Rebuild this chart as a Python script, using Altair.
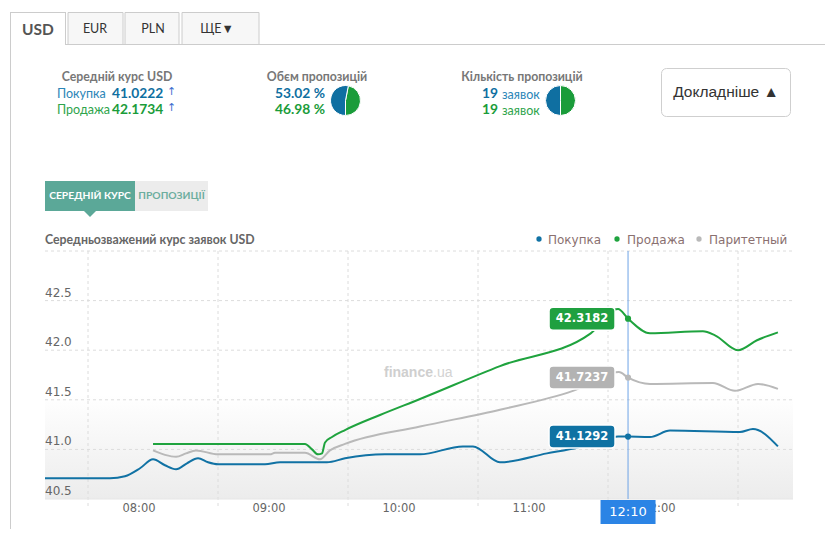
import altair as alt
import pandas as pd

# ---------------- data ----------------
series_names = ["Покупка", "Продажа", "Паритетний"]
series_colors = ["#1172a4", "#1fa33e", "#b9b9b9"]

time_buy = [7.277, 7.777, 7.892, 8.008, 8.108, 8.2, 8.285, 8.369, 8.454, 8.531, 8.608, 8.969,
            9.085, 9.446, 9.585, 9.892, 10.162, 10.492, 10.569, 10.777, 11.138, 11.377, 11.546,
            11.685, 11.762, 11.931, 12.085, 12.623, 12.723, 12.915]
rate_buy = [40.71, 40.71, 40.73, 40.81, 40.90, 40.84, 40.80, 40.86, 40.91, 40.87, 40.85, 40.85,
            40.87, 40.87, 40.91, 40.95, 40.95, 41.03, 41.03, 40.87, 40.96, 41.02, 41.08,
            41.13, 41.1292, 41.125, 41.19, 41.175, 41.205, 41.03]

time_sell = [8.108, 9.277, 9.331, 9.377, 9.408, 9.431, 9.485, 9.585, 9.854, 10.162, 10.777,
             11.475, 11.685, 11.762, 11.931, 12.338, 12.431, 12.608, 12.754, 12.915]
rate_sell = [41.055, 41.055, 41.00, 40.95, 40.96, 41.07, 41.125, 41.195, 41.347, 41.508, 41.84,
             42.17, 42.415, 42.3182, 42.17, 42.19, 42.15, 42.00, 42.10, 42.18]

time_par = [8.108, 8.2, 8.285, 8.362, 8.438, 8.608, 9.008, 9.046, 9.277, 9.392, 9.469, 9.585,
            10.162, 10.777, 11.338, 11.692, 11.762, 11.931, 12.415, 12.585, 12.762, 12.915]
rate_par = [40.99, 40.945, 40.926, 40.96, 40.99, 40.95, 40.95, 40.965, 40.965, 40.90, 40.99, 41.055,
            41.23, 41.40, 41.59, 41.78, 41.7237, 41.66, 41.67, 41.59, 41.66, 41.61]

cross_time = 11.762
cross_label = "12:10"
cross_vals = [41.1292, 42.3182, 41.7237]

x_label_t = [8, 9, 10, 11, 12]
x_label_s = ["08:00", "09:00", "10:00", "11:00", "12:00"]
x_grid_t = [7.608, 8.608, 9.608, 10.608, 11.608, 12.608]
y_ticks = [40.5, 41.0, 41.5, 42.0, 42.5]
y_grid = [41.0, 41.5, 42.0, 42.5, 43.0]

avg_buy, avg_sell = "41.0222", "42.1734"
vol_buy, vol_sell = 53.02, 46.98
cnt_buy, cnt_sell = 19, 19

# ---------------- layout helpers ----------------
PX0, PY0 = 45, 251           # page position of plot origin
W, H = 748, 248
FN = "Lato, Roboto, sans-serif"
FV = "DejaVu Sans, Verdana, sans-serif"
FA = "Liberation Sans, Arial, sans-serif"

X_SC = alt.Scale(domain=[7.277, 13.031], nice=False, zero=False)
Y_SC = alt.Scale(domain=[40.5, 43.0], nice=False, zero=False)
ONE = pd.DataFrame({"a": [0]})


def vx(X):
    return alt.value(X - PX0)


def vy(Y):
    return alt.value(Y - PY0)


def txt(s, X, Y, size, color, weight="normal", align="left", font=FN, baseline="middle"):
    return alt.Chart(ONE).mark_text(text=s, fontSize=size, color=color, fontWeight=weight,
                                    align=align, baseline=baseline, font=font).encode(x=vx(X), y=vy(Y))


def box(X1, Y1, X2, Y2, fill, stroke=None, sw=1, r=0):
    kw = dict(fill=fill, cornerRadius=r)
    if stroke:
        kw.update(stroke=stroke, strokeWidth=sw)
    return alt.Chart(ONE).mark_rect(**kw).encode(x=vx(X1), x2=vx(X2), y=vy(Y1), y2=vy(Y2))


def hline(X1, X2, Y, color, w=1, dash=None):
    kw = dict(color=color, strokeWidth=w)
    if dash:
        kw["strokeDash"] = dash
    return alt.Chart(ONE).mark_rule(**kw).encode(x=vx(X1), x2=vx(X2), y=vy(Y), y2=vy(Y))


def vline(X, Y1, Y2, color, w=1):
    return alt.Chart(ONE).mark_rule(color=color, strokeWidth=w).encode(x=vx(X), x2=vx(X), y=vy(Y1), y2=vy(Y2))


layers = []

# ---------------- tabs & panel ----------------
BORDER = "#cccccc"
for (x1, x2) in [(68, 123), (125, 179), (182, 259)]:
    layers.append(box(x1, 12.5, x2, 44.5, "#f7f7f7", BORDER))
layers += [
    vline(10.5, 12, 537, BORDER), hline(10, 65, 12.5, BORDER), vline(65.5, 12, 44, BORDER),
    hline(65, 828, 44.5, BORDER), vline(827.5, 44, 537, BORDER),
    txt("USD", 38, 30, 15.5, "#555555", "bold", "center"),
    txt("EUR", 95, 29, 12.5, "#333333", "normal", "center"),
    txt("PLN", 153, 29, 12.5, "#333333", "normal", "center"),
    txt("ЩЕ▼", 217, 29, 12.5, "#333333", "normal", "center"),
]

# ---------------- summary block ----------------
BLUE, GREEN = "#0f6fa1", "#1a9c3a"
HDR = 12.3
layers += [
    txt("Середній курс USD", 117, 77, HDR, "#777777", "bold", "center"),
    txt("Покупка", 57, 94, 12.5, "#2b86b8"),
    txt(avg_buy, 112, 94, 13.8, BLUE, "bold"),
    txt("↑", 167, 92, 11, "#3f6fd0", font=FV),
    txt("Продажа", 57, 110, 12.5, "#2ea44b"),
    txt(avg_sell, 112, 110, 13.8, GREEN, "bold"),
    txt("↑", 167, 108, 11, "#3f6fd0", font=FV),
    txt("Обєм пропозицій", 317, 77, HDR, "#777777", "bold", "center"),
    txt(f"{vol_buy:.2f} %", 325, 94, 13.8, BLUE, "bold", "right"),
    txt(f"{vol_sell:.2f} %", 325, 110, 13.8, GREEN, "bold", "right"),
    txt("Кількість пропозицій", 522, 77, HDR, "#777777", "bold", "center"),
    txt(str(cnt_buy), 498, 94, 13.8, BLUE, "bold", "right"),
    txt("заявок", 502, 95, 12.5, "#2b86b8"),
    txt(str(cnt_sell), 498, 110, 13.8, GREEN, "bold", "right"),
    txt("заявок", 502, 111, 12.5, "#2ea44b"),
]

TAU = 6.283185307


def pie(cx, cy, buy, sell):
    total = buy + sell
    g_end = TAU / 2
    g_start = g_end - sell / total * TAU
    df = pd.DataFrame({"t0": [g_start, g_end], "t1": [g_end, g_start + TAU],
                       "c": [GREEN, BLUE]})
    return alt.Chart(df).mark_arc(radius=15, stroke="white", strokeWidth=1).encode(
        theta=alt.Theta("t0:Q", scale=None), theta2="t1:Q",
        color=alt.Color("c:N", scale=None), x=vx(cx), y=vy(cy))


layers += [pie(345.5, 100.5, vol_buy, vol_sell), pie(560.5, 100.5, cnt_buy, cnt_sell)]

layers += [
    box(661.5, 68.5, 790.5, 116.5, "white", "#cfcfcf", 1, 5),
    txt("Докладніше ▲", 726, 92, 15.5, "#333333", "normal", "center", FA),
]

# ---------------- sub tabs & title ----------------
TEAL = "#5ba898"
layers += [
    alt.Chart(ONE).mark_point(shape="M-1,0L1,0L0,1Z", size=144, filled=True, fill=TEAL,
                              opacity=1, strokeWidth=0).encode(x=vx(90), y=vy(211)),
    box(45, 181, 135, 211, TEAL),
    box(135, 181, 208, 211, "#ececec"),
    txt("СЕРЕДНІЙ КУРС", 90, 196, 10.3, "white", "bold", "center"),
    txt("ПРОПОЗИЦІЇ", 171.5, 196, 10.3, "#6cae9f", "bold", "center"),
    txt("Середньозважений курс заявок USD", 45, 240, 12.3, "#666666", "bold"),
]

# legend
LEG_TXT = "#8a7070"
for dx, tx, name, col in [(539, 548, series_names[0], series_colors[0]),
                          (617, 627, series_names[1], series_colors[1]),
                          (699, 709, "Паритетный", series_colors[2])]:
    layers.append(alt.Chart(ONE).mark_circle(size=28, color=col, opacity=1).encode(x=vx(dx), y=vy(239)))
    layers.append(txt(name, tx, 240, 12, LEG_TXT, font=FV))

# ---------------- plot area ----------------
grad = alt.Gradient(gradient="linear",
                    stops=[alt.GradientStop(color="#ffffff", offset=0),
                           alt.GradientStop(color="#ffffff", offset=0.58),
                           alt.GradientStop(color="#ececec", offset=1)],
                    x1=0, x2=0, y1=0, y2=1)
layers.append(alt.Chart(ONE).mark_rect(color=grad).encode(
    x=alt.value(0), x2=alt.value(W), y=alt.value(0), y2=alt.value(H)))

ygrid_df = pd.DataFrame({"v": y_grid})
layers.append(alt.Chart(ygrid_df).mark_rule(color="#dcdcdc", strokeDash=[3, 3], strokeWidth=1).encode(
    y=alt.Y("v:Q", scale=Y_SC, axis=None), x=alt.value(0), x2=alt.value(W)))
xgrid_df = pd.DataFrame({"t": x_grid_t})
layers.append(alt.Chart(xgrid_df).mark_rule(color="#dcdcdc", strokeDash=[3, 3], strokeWidth=1).encode(
    x=alt.X("t:Q", scale=X_SC, axis=None), y=alt.value(0), y2=alt.value(H + 10)))
layers.append(alt.Chart(ONE).mark_rule(color="#e6e6e6").encode(
    x=alt.value(0), x2=alt.value(W), y=alt.value(H), y2=alt.value(H)))

# watermark
layers += [
    txt("finance", 433, 373, 14, "#cfcfcf", "bold", "right", FA),
    txt(".ua", 433, 373, 14, "#d3d3d3", "normal", "left", FA),
]

# data lines
for ts, vs, col in [(time_par, rate_par, series_colors[2]),
                    (time_sell, rate_sell, series_colors[1]),
                    (time_buy, rate_buy, series_colors[0])]:
    df = pd.DataFrame({"t": ts, "v": vs})
    layers.append(alt.Chart(df).mark_line(color=col, strokeWidth=2, interpolate="monotone").encode(
        x=alt.X("t:Q", scale=X_SC, axis=None), y=alt.Y("v:Q", scale=Y_SC, axis=None)))

# crosshair
cross_df = pd.DataFrame({"t": [cross_time]})
layers.append(alt.Chart(cross_df).mark_rule(color="#6ea3e6", strokeWidth=1).encode(
    x=alt.X("t:Q", scale=X_SC, axis=None), y=alt.value(0), y2=alt.value(H)))

pts = pd.DataFrame({"t": [cross_time] * 3, "v": cross_vals, "c": series_colors,
                    "lab": [f"{v:.4f}" for v in cross_vals]})
pts["x1"] = pts["t"] - 79 / 130
pts["x2"] = pts["t"] - 13 / 130
pts["y1"] = pts["v"] - 0.116
pts["y2"] = pts["v"] + 0.116
pts["xm"] = (pts["x1"] + pts["x2"]) / 2
box_cols = ["#0f72a3", "#1fa040", "#b3b3b3"]
pts["bc"] = box_cols

layers.append(alt.Chart(pts).mark_circle(size=38, opacity=1).encode(
    x=alt.X("t:Q", scale=X_SC, axis=None), y=alt.Y("v:Q", scale=Y_SC, axis=None),
    color=alt.Color("c:N", scale=None)))
layers.append(alt.Chart(pts).mark_rect(cornerRadius=4, stroke="white", strokeWidth=1.5).encode(
    x=alt.X("x1:Q", scale=X_SC, axis=None), x2="x2:Q",
    y=alt.Y("y1:Q", scale=Y_SC, axis=None), y2="y2:Q",
    color=alt.Color("bc:N", scale=None)))
layers.append(alt.Chart(pts).mark_text(color="white", fontWeight="bold", fontSize=11.5, font=FV,
                                       baseline="middle", align="center").encode(
    x=alt.X("xm:Q", scale=X_SC, axis=None), y=alt.Y("v:Q", scale=Y_SC, axis=None), text="lab:N"))

# axis labels
ylab = pd.DataFrame({"v": y_ticks, "s": [f"{v:.1f}" for v in y_ticks]})
layers.append(alt.Chart(ylab).mark_text(align="left", baseline="middle", dy=-8, fontSize=12,
                                        color="#666666", font=FV).encode(
    y=alt.Y("v:Q", scale=Y_SC, axis=None), x=alt.value(0), text="s:N"))
xlab = pd.DataFrame({"t": x_label_t, "s": x_label_s})
layers.append(alt.Chart(xlab).mark_text(align="center", baseline="middle", fontSize=11.5,
                                        color="#666666", font=FV).encode(
    x=alt.X("t:Q", scale=X_SC, axis=None), y=alt.value(H + 10), text="s:N"))

# crosshair time label
cl = pd.DataFrame({"t": [cross_time], "t1": [cross_time - 27.5 / 130], "t2": [cross_time + 27.5 / 130],
                   "s": [cross_label]})
layers.append(alt.Chart(cl).mark_rect(color="#2b84e5").encode(
    x=alt.X("t1:Q", scale=X_SC, axis=None), x2="t2:Q", y=alt.value(H + 1), y2=alt.value(H + 25)))
layers.append(alt.Chart(cl).mark_text(color="white", fontSize=13, font=FV, baseline="middle",
                                      align="center").encode(
    x=alt.X("t:Q", scale=X_SC, axis=None), y=alt.value(H + 13), text="s:N"))

chart = alt.layer(*layers).properties(
    width=W, height=H,
    padding={"left": 37, "top": 243, "right": 32, "bottom": 30},
    autosize=alt.AutoSizeParams(type="none"),
    background="white",
).configure_view(stroke=None)

chart.save("out.html", embed_options={"renderer": "svg", "actions": False})
